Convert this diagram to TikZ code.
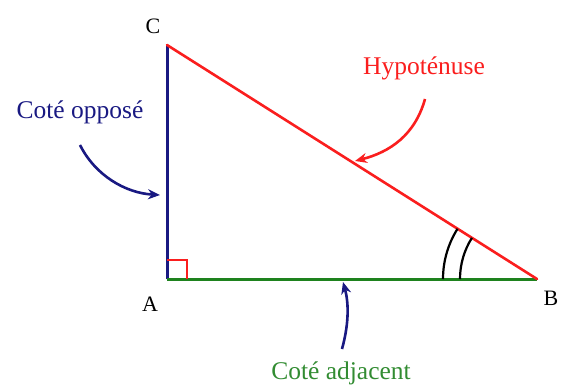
\documentclass[tikz,border=0pt]{standalone}
\usepackage{fontspec}
\setmainfont{Liberation Serif}
\usetikzlibrary{arrows.meta}
\definecolor{navyc}{RGB}{25,25,130}
\definecolor{redc}{RGB}{250,30,30}
\definecolor{greenc}{RGB}{30,130,30}
\definecolor{greent}{RGB}{50,140,50}
\begin{document}
\begin{tikzpicture}[x=1pt,y=-1pt,
  lbl/.style={font=\fontsize{25.5}{30}\selectfont, inner sep=0pt},
  vtx/.style={font=\fontsize{22}{26}\selectfont, inner sep=0pt},
  pointer/.style={line width=2.6pt, -{Stealth[length=12pt,width=10pt]}}]
\useasboundingbox (0,0) rectangle (567,387);
\coordinate (A) at (167,279);
\coordinate (B) at (537,279);
\coordinate (C) at (167,45);
\draw[navyc, line width=3pt] (A) -- (C);
\draw[greenc, line width=3pt] (A) -- (B);
\draw[redc, line width=2.6pt, line cap=round] (C) -- (B);
\draw[redc, line width=2.2pt] (167,260) -- (187,260) -- (187,279);
\draw[black, line width=2.2pt] ([shift={(180:94)}]B) arc[start angle=180, end angle=212.3, radius=94];
\draw[black, line width=2.2pt] ([shift={(180:77)}]B) arc[start angle=180, end angle=212.3, radius=77];
\node[vtx] (lC) at (153,26) {C};
\node[vtx] (lA) at (150,304) {A};
\node[vtx] (lB) at (551,298) {B};
\node[lbl, text=navyc] (op) at (80,112) {Coté opposé};
\node[lbl, text=redc] (hyp) at (424,68) {Hypoténuse};
\node[lbl, text=greent] (adj) at (341,373) {Coté adjacent};
\coordinate (opS) at (80,145);
\coordinate (opE) at (160,195);
\coordinate (hypS) at (425,99);
\coordinate (hypE) at (355,161);
\coordinate (adjS) at (342,349);
\coordinate (adjE) at (343,282);
\draw[pointer, navyc] (opS) .. controls (95,175) and (125,193) .. (opE);
\draw[pointer, redc] (hypS) .. controls (415,135) and (390,152) .. (hypE);
\draw[pointer, navyc] (adjS) .. controls (350,320) and (348,300) .. (adjE);
\end{tikzpicture}
\end{document}
